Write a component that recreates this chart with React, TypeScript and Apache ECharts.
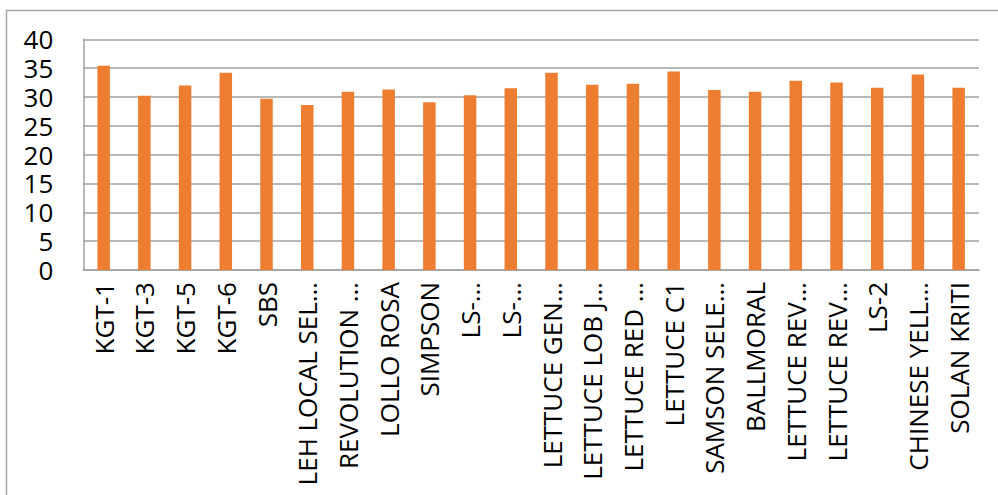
import React, { useEffect, useRef } from "react";
import * as echarts from "echarts";

const categories = [
  "KGT-1",
  "KGT-3",
  "KGT-5",
  "KGT-6",
  "SBS",
  "LEH LOCAL SEL…",
  "REVOLUTION …",
  "LOLLO ROSA",
  "SIMPSON",
  "LS-…",
  "LS-…",
  "LETTUCE GEN…",
  "LETTUCE LOB J…",
  "LETTUCE RED …",
  "LETTUCE C1",
  "SAMSON SELE…",
  "BALLMORAL",
  "LETTUCE REV…",
  "LETTUCE REV…",
  "LS-2",
  "CHINESE YELL…",
  "SOLAN KRITI",
];

const values = [
  35.4, 30.2, 32.0, 34.2, 29.7, 28.6, 30.9, 31.3, 29.1, 30.3, 31.5, 34.2, 32.1,
  32.3, 34.4, 31.2, 30.9, 32.8, 32.5, 31.6, 33.9, 31.6,
];

const yTicks = { min: 0, max: 40, interval: 5 };

export default function App() {
  const ref = useRef<HTMLDivElement>(null);
  useEffect(() => {
    if (!ref.current) return;
    const chart = echarts.init(ref.current, undefined, { renderer: "svg" });
    const font = "'Open Sans', 'Noto Sans', sans-serif";
    chart.setOption({
      animation: false,
      backgroundColor: "#ffffff",
      graphic: [
        {
          type: "rect",
          left: 4,
          top: 8,
          shape: { width: 1100, height: 600 },
          style: { fill: "none", stroke: "#a6a6a6", lineWidth: 1.5 },
          silent: true,
        },
      ],
      grid: { left: 83.3, right: 19, top: 39.3, bottom: 225, containLabel: false },
      xAxis: {
        type: "category",
        data: categories,
        axisLine: { show: true, lineStyle: { color: "#a0a0a0", width: 1.5 } },
        axisTick: { show: false },
        axisLabel: {
          rotate: 90,
          interval: 0,
          margin: 12,
          color: "#000000",
          fontFamily: font,
          fontSize: 26,
        },
      },
      yAxis: {
        type: "value",
        min: yTicks.min,
        max: yTicks.max,
        interval: yTicks.interval,
        axisLine: { show: true, lineStyle: { color: "#a0a0a0", width: 1.5 } },
        axisTick: { show: false },
        axisLabel: {
          margin: 30,
          color: "#000000",
          fontFamily: font,
          fontSize: 26,
          lineHeight: 22,
        },
        splitLine: { show: true, lineStyle: { color: "#a0a0a0", width: 1.5 } },
      },
      series: [
        {
          type: "bar",
          data: values,
          barWidth: 12.5,
          itemStyle: { color: "#ED7D31" },
        },
      ],
    });
    return () => chart.dispose();
  }, []);
  return (
    <div
      ref={ref}
      style={{ position: "absolute", left: 0, top: 0, width: 998, height: 495 }}
    />
  );
}
